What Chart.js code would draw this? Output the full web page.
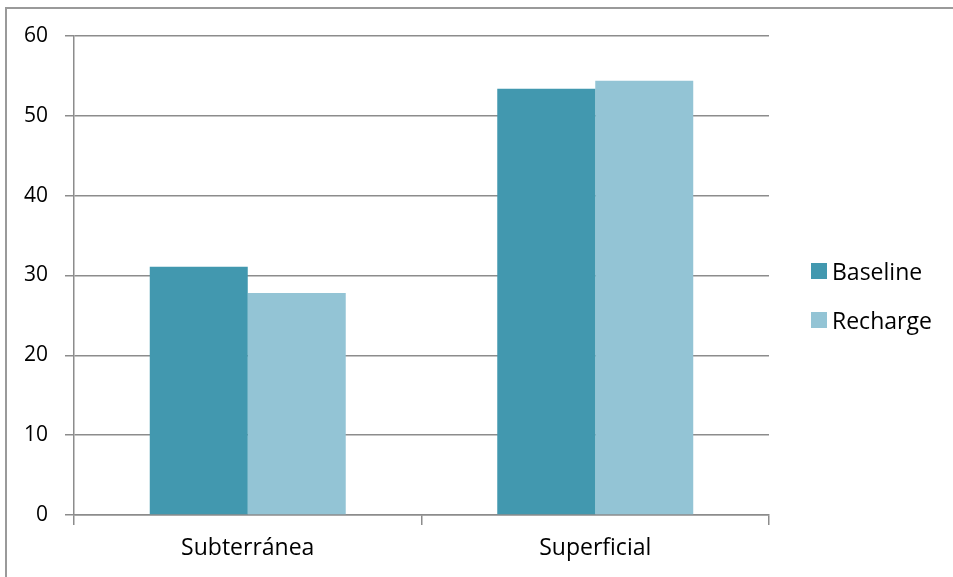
<!DOCTYPE html>
<html><head><meta charset="utf-8">
<script src="https://cdn.jsdelivr.net/npm/chart.js@4/dist/chart.umd.min.js"></script>
<style>
html,body{margin:0;padding:0;background:#fff;}
#wrap{position:relative;width:953px;height:577px;overflow:hidden;}
#frame{position:absolute;left:5px;top:7px;width:1000px;height:1000px;border:2px solid #9a9a9a;box-sizing:border-box;}
canvas{position:absolute;left:0;top:0;}
#legend{position:absolute;left:811px;top:258px;font-family:"Open Sans",sans-serif;font-size:23px;color:#000;}
.item{display:flex;align-items:center;height:25px;margin-bottom:24px;}
.sw{width:16px;height:16px;margin-right:5px;}
</style></head>
<body><div id="wrap"><div id="frame"></div><canvas id="c" width="953" height="577"></canvas><div id="legend"></div></div>
<script>
const categories = ["Subterránea", "Superficial"];
const seriesNames = ["Baseline", "Recharge"];
const baseline = [31.1, 53.4];
const recharge = [27.8, 54.4];
const yTicks = [0, 10, 20, 30, 40, 50, 60];
const colors = ["#4298AF", "#93C4D5"];

const yFont = {family: "'Open Sans', sans-serif", size: 21};
const xFont = {family: "'Open Sans', sans-serif", size: 23};
const chart = new Chart(document.getElementById('c'), {
  type: 'bar',
  data: {
    labels: categories,
    datasets: [
      {label: seriesNames[0], data: baseline, backgroundColor: colors[0], categoryPercentage: 0.564, barPercentage: 1.0},
      {label: seriesNames[1], data: recharge, backgroundColor: colors[1], categoryPercentage: 0.564, barPercentage: 1.0}
    ]
  },
  options: {
    responsive: false, animation: false,
    layout: {padding: {top: 36, right: 184, left: 0, bottom: 0}},
    plugins: {legend: {display: false}, tooltip: {enabled: false}},
    scales: {
      x: {
        grid: {offset: true, drawOnChartArea: false, color: '#8c8c8c', lineWidth: 1.5, tickLength: 10},
        border: {color: '#8c8c8c', width: 1.5},
        ticks: {color: '#000', font: xFont, padding: 10},
        afterFit: s => { s.height = 62; }
      },
      y: {
        min: 0, max: 60,
        afterBuildTicks: s => { s.ticks = yTicks.map(v => ({value: v})); },
        grid: {color: '#8c8c8c', lineWidth: 1.5, tickLength: 9},
        border: {color: '#8c8c8c', width: 1.5},
        ticks: {color: '#000', font: yFont, padding: 17},
        afterFit: s => { s.width = 74; }
      }
    }
  }
});
const lg = document.getElementById('legend');
chart.data.datasets.forEach(ds => {
  const d = document.createElement('div'); d.className = 'item';
  const sw = document.createElement('div'); sw.className = 'sw'; sw.style.background = ds.backgroundColor;
  const t = document.createElement('span'); t.textContent = ds.label;
  d.appendChild(sw); d.appendChild(t); lg.appendChild(d);
});
</script></body></html>
